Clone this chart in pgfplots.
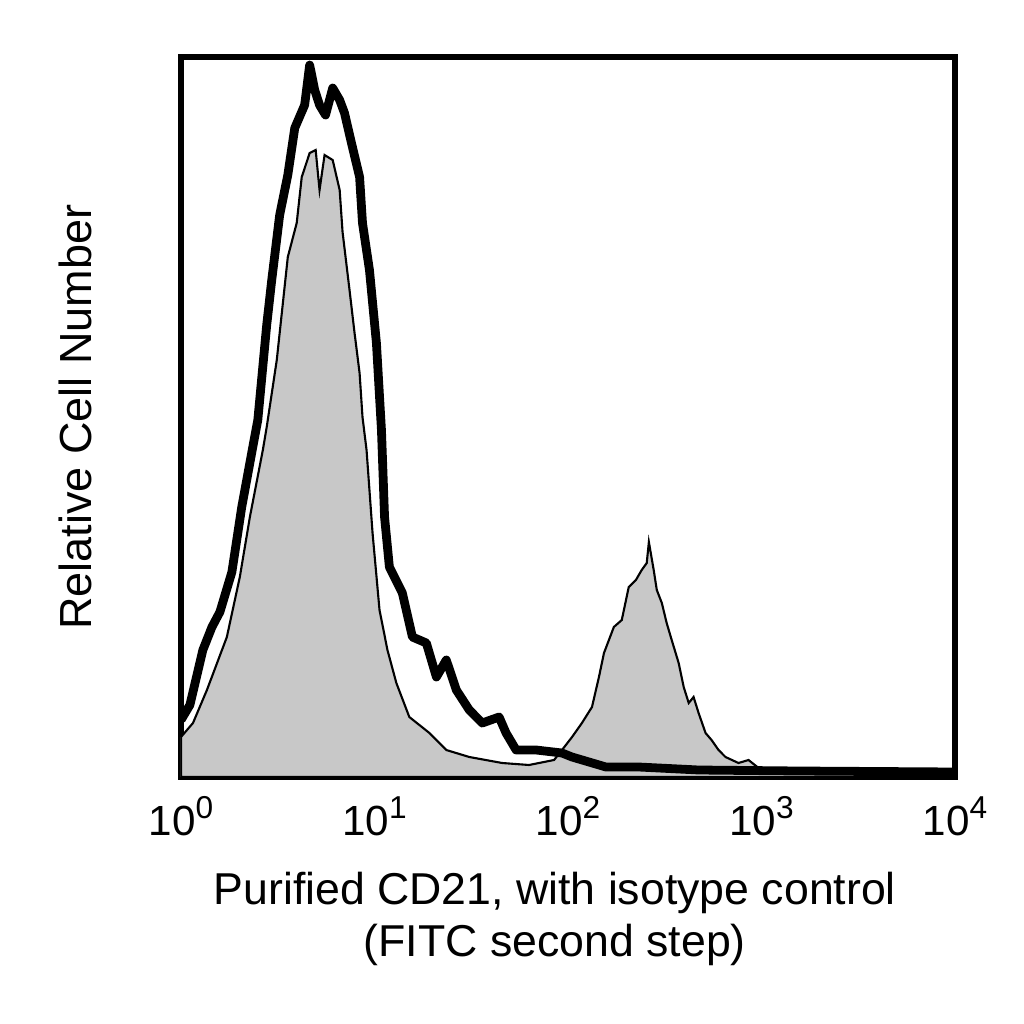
\documentclass[border=0pt]{standalone}
\usepackage{pgfplots}
\pgfplotsset{compat=1.18}
\usepackage{fontspec}
\setmainfont{Liberation Sans}
\definecolor{histgray}{RGB}{200,200,200}
\newcommand{\dec}[1]{10\raisebox{4.8pt}{\fontsize{9}{9}\selectfont #1}}

\begin{document}
\begin{tikzpicture}
\path[use as bounding box] (-1.81cm,-2.47cm) rectangle (8.43cm,7.77cm);
\begin{axis}[
    scale only axis,
    width=7.74cm,
    height=7.20cm,
    xmin=0, xmax=4,
    ymin=0, ymax=720,
    xtick={0,1,2,3,4},
    xticklabels={\dec{0},\dec{1},\dec{2},\dec{3},\dec{4}},
    ytick=\empty,
    major tick length=0pt,
    axis line style={line width=1.7pt},
    xticklabel style={font=\fontsize{12}{13}\selectfont, yshift=-2pt},
    xlabel={Purified CD21, with isotype control\\(FITC second step)},
    xlabel style={font=\fontsize{12.7}{14.8}\selectfont, align=center,
        anchor=center, at={(axis description cs:0.483,-0.197)}},
    ylabel={Relative Cell Number},
    ylabel style={font=\fontsize{12.8}{15}\selectfont,
        anchor=center, at={(axis description cs:-0.136,0.5)}},
    clip=true,
]
% CD21 stained cells (filled histogram)
\addplot[draw=black, line width=0.6pt, fill=histgray]
    coordinates{
        (0.000,40) (0.062,54) (0.134,87) (0.237,140) (0.304,200)
        (0.356,260) (0.423,327) (0.443,350) (0.495,417) (0.552,520)
        (0.598,554) (0.624,600) (0.665,624) (0.696,627) (0.716,587)
        (0.742,622) (0.784,617) (0.820,587) (0.835,545) (0.871,487)
        (0.897,444) (0.923,404) (0.938,360) (0.959,327) (0.990,244)
        (1.026,167) (1.067,127) (1.113,94) (1.180,60) (1.284,44)
        (1.371,27) (1.490,20) (1.660,14) (1.799,12) (1.928,17)
        (1.969,27) (2.021,40) (2.072,54) (2.124,70) (2.160,100)
        (2.186,124) (2.237,150) (2.278,157) (2.314,190) (2.351,197)
        (2.381,207) (2.407,214) (2.418,235) (2.443,207) (2.459,187)
        (2.485,174) (2.510,154) (2.536,137) (2.572,114) (2.598,90)
        (2.624,74) (2.649,80) (2.675,64) (2.711,44) (2.742,37)
        (2.778,27) (2.814,20) (2.881,14) (2.933,17) (2.985,9)
        (3.088,7) (3.191,5) (3.345,6) (3.500,5) (3.706,5)
        (3.861,5) (4.000,4)
    } \closedcycle;
% isotype control (thick outline)
\addplot[draw=black, line width=2.5pt, line join=round]
    coordinates{
        (0.000,57) (0.046,72) (0.113,127) (0.160,150) (0.201,165)
        (0.263,205) (0.314,270) (0.371,330) (0.397,357) (0.443,452)
        (0.469,497) (0.510,562) (0.552,602) (0.588,649) (0.639,672)
        (0.665,712) (0.691,687) (0.716,672) (0.747,662) (0.784,689)
        (0.820,677) (0.845,664) (0.881,634) (0.923,600) (0.938,554)
        (0.974,507) (1.010,434) (1.036,347) (1.052,260) (1.077,210)
        (1.144,184) (1.196,140) (1.268,134) (1.320,100) (1.371,117)
        (1.423,87) (1.490,67) (1.557,54) (1.644,60) (1.680,44)
        (1.732,27) (1.835,27) (1.969,24) (2.021,20) (2.196,10)
        (2.366,10) (2.675,7) (3.191,6) (4.000,5)
    };
\end{axis}
\end{tikzpicture}
\end{document}
